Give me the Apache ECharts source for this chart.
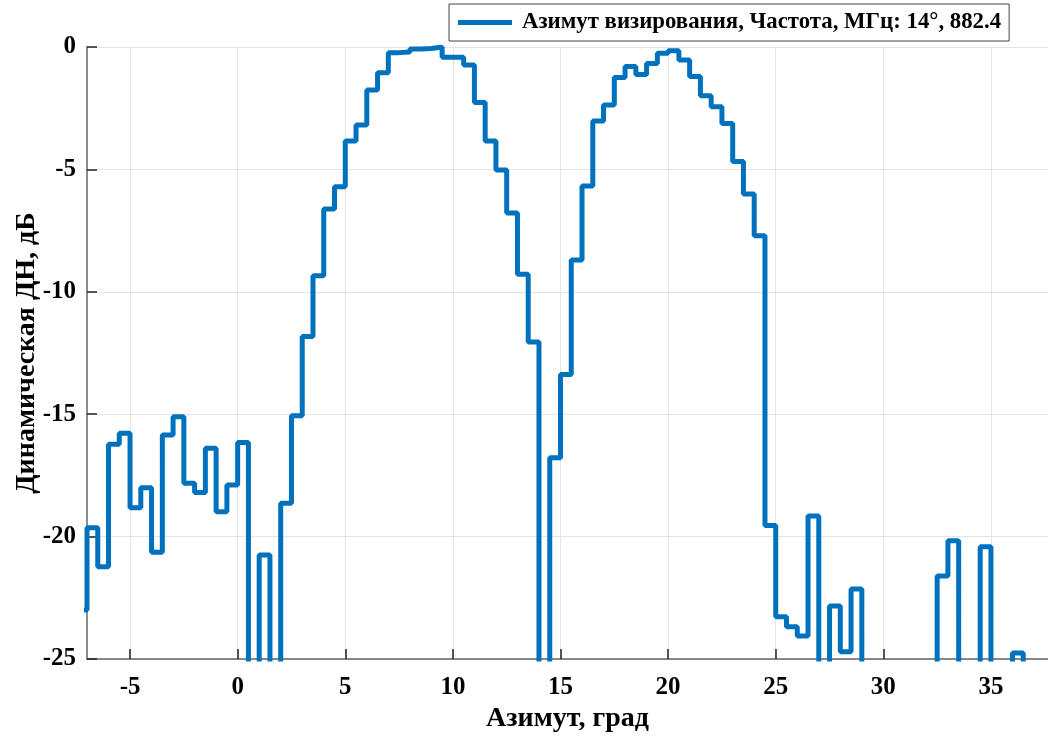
<!DOCTYPE html>
<html>
<head>
<meta charset="utf-8">
<script src="https://cdn.jsdelivr.net/npm/echarts@6/dist/echarts.min.js"></script>
<style>
html,body{margin:0;padding:0;background:#fff;}
#chart{width:1048px;height:736px;}
</style>
</head>
<body>
<div id="chart"></div>
<script>
// Azimuth (deg), start of each stair step
const azimuth = [
  -7.5, -7, -6.5, -6, -5.5, -5, -4.5, -4, -3.5, -3, -2.5, -2, -1.5, -1, -0.5,
  0, 0.5, 1, 1.5, 2, 2.5, 3, 3.5, 4, 4.5, 5, 5.5, 6, 6.5, 7, 7.5, 8, 8.5, 9, 9.5,
  10, 10.5, 11, 11.5, 12, 12.5, 13, 13.5, 14, 14.5, 15, 15.5, 16, 16.5, 17, 17.5,
  18, 18.5, 19, 19.5, 20, 20.5, 21, 21.5, 22, 22.5, 23, 23.5, 24, 24.5, 25, 25.5,
  26, 26.5, 27, 27.5, 28, 28.5, 29, 29.5, 30, 30.5, 31, 31.5, 32, 32.5, 33, 33.5,
  34, 34.5, 35, 35.5, 36, 36.5, 37, 37.5
];
// Dynamic pattern, dB (values below -25 fall off the chart)
const patternDb = [
  -23.0, -19.64, -21.23, -16.23, -15.78, -18.82, -18.0, -20.64, -15.85, -15.1, -17.82, -18.2, -16.39, -18.98, -17.89,
  -16.16, -40, -20.75, -40, -18.64, -15.06, -11.83, -9.34, -6.62, -5.71, -3.84, -3.19, -1.76, -1.05, -0.23, -0.20, -0.08, -0.06, 0.0, -0.42,
  -0.42, -0.74, -2.27, -3.84, -5.02, -6.78, -9.28, -12.05, -40, -16.78, -13.38, -8.70, -5.68, -3.02, -2.37, -1.25,
  -0.80, -1.12, -0.67, -0.26, -0.15, -0.53, -1.21, -1.99, -2.44, -3.12, -4.68, -6.0, -7.71, -19.55, -23.27, -23.68,
  -24.06, -19.16, -40, -22.83, -24.7, -22.14, -40, -40, -40, -40, -40, -40, -40, -21.61, -20.17, -40,
  -40, -20.41, -40, -40, -24.75, -40, -40, -40
];
const xTicks = [-5, 0, 5, 10, 15, 20, 25, 30, 35];
const seriesName = 'Азимут визирования, Частота, МГц: 14°, 882.4';

const data = azimuth.map((x, i) => [x, patternDb[i]]);
const font = 'Liberation Serif';

const chart = echarts.init(document.getElementById('chart'), null, {renderer: 'canvas'});
chart.setOption({
  animation: false,
  backgroundColor: '#fff',
  grid: {left: 87, right: 0, top: 47, bottom: 77, containLabel: false, outerBoundsMode: 'none'},
  legend: {
    data: [seriesName],
    left: 449, top: 4,
    padding: [7, 8, 7, 9],
    backgroundColor: '#fff',
    borderColor: '#444',
    borderWidth: 1,
    icon: 'rect',
    itemWidth: 54,
    itemHeight: 5,
    textStyle: {fontFamily: font, fontWeight: 'bold', fontSize: 22.8, color: '#000', padding: [0, 0, 0, 5]}
  },
  xAxis: {
    type: 'value',
    min: -7, max: 37.65,
    name: 'Азимут, град',
    nameLocation: 'middle',
    nameGap: 46,
    nameMoveOverlap: false,
    nameTextStyle: {fontFamily: font, fontWeight: 'bold', fontSize: 28, color: '#000'},
    axisLine: {show: true, onZero: false, lineStyle: {color: '#666', width: 1.5}},
    axisTick: {show: true, inside: true, length: 10, customValues: xTicks, lineStyle: {color: '#222', width: 1.5}},
    axisLabel: {customValues: xTicks, fontFamily: font, fontWeight: 'bold', fontSize: 25, color: '#000', margin: 16},
    splitLine: {show: true, lineStyle: {color: '#e3e3e3', width: 1}}
  },
  yAxis: {
    type: 'value',
    min: -25, max: 0, interval: 5,
    name: 'Динамическая ДН, дБ',
    nameLocation: 'middle',
    nameGap: 46,
    nameMoveOverlap: false,
    nameTextStyle: {fontFamily: font, fontWeight: 'bold', fontSize: 28, color: '#000'},
    axisLine: {show: true, onZero: false, lineStyle: {color: '#666', width: 1.5}},
    axisTick: {show: true, inside: true, length: 10, lineStyle: {color: '#222', width: 1.5}},
    axisLabel: {fontFamily: font, fontWeight: 'bold', fontSize: 25, color: '#000', margin: 11},
    splitLine: {show: true, lineStyle: {color: '#e3e3e3', width: 1}}
  },
  series: [{
    name: seriesName,
    type: 'line',
    step: 'end',
    data: data,
    symbol: 'none',
    clip: true,
    color: '#0072BD',
    lineStyle: {color: '#0072BD', width: 5}
  }]
});
</script>
</body>
</html>
